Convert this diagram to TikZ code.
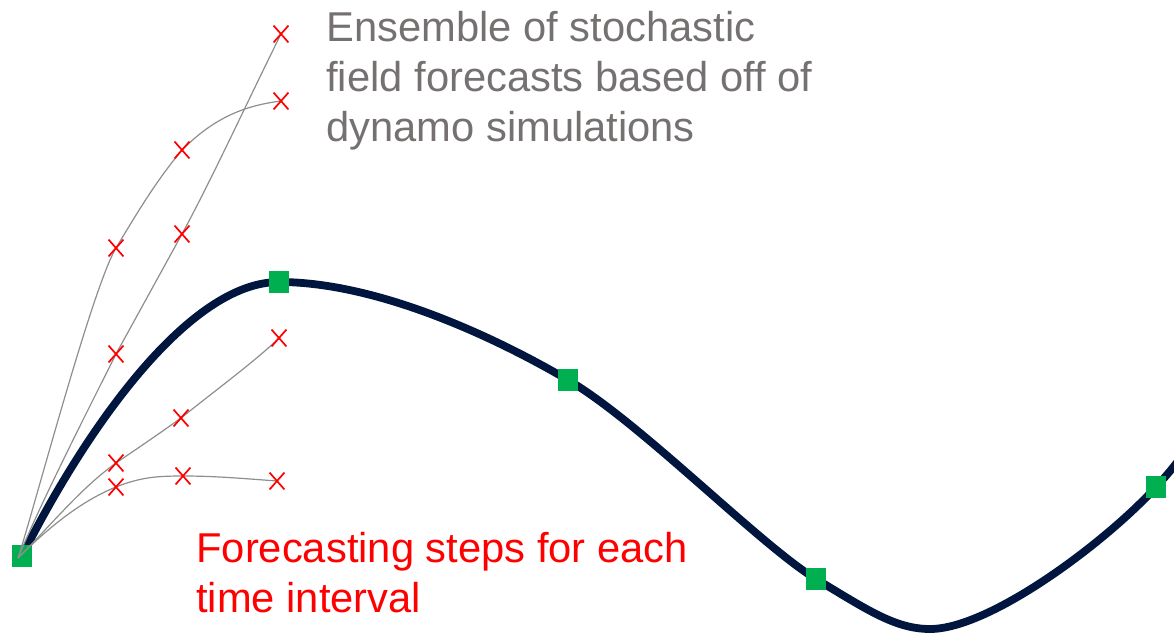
\documentclass[tikz,border=0pt]{standalone}
\usepackage{fontspec}
\setmainfont{Liberation Sans}
\usetikzlibrary{shapes.misc}
\definecolor{pathc}{HTML}{00163F}
\definecolor{stepc}{HTML}{00B050}
\definecolor{ensc}{HTML}{8E8E8E}
\definecolor{notec}{HTML}{767171}
\definecolor{fcstc}{HTML}{FF0000}
\pgfdeclarelayer{back}
\pgfdeclarelayer{front}
\pgfsetlayers{back,main,front}
\tikzset{
  mainpath/.style={pathc,line width=3.9pt},
  stepbox/.style={rectangle,fill=stepc,minimum width=9.6pt,minimum height=10.8pt,inner sep=0pt},
  ens/.style={ensc,line width=0.6pt},
  fcst/.style={cross out,draw=fcstc,line width=0.85pt,minimum width=6.6pt,minimum height=7.6pt,inner sep=0pt},
  lbl/.style={font=\fontsize{20.85}{25}\selectfont,align=left,inner sep=0pt}
}
\begin{document}
\begin{tikzpicture}[x=0.5pt,y=-0.5pt]
\useasboundingbox (0,0) rectangle (1174,634);
% forecast steps along the true path
\node[stepbox] (s0) at (22,556) {};
\node[stepbox] (s1) at (279,282) {};
\node[stepbox] (s2) at (568,380) {};
\node[stepbox] (s3) at (816,579) {};
\node[stepbox] (s4) at (1156,487) {};
\coordinate (low) at (930,629);
\coordinate (out) at (1186,450);
\begin{pgfonlayer}{back}
\draw[mainpath] (s0.center) .. controls (88,425) and (190,282) .. (s1.center)
  .. controls (380,282) and (500,340) .. (s2.center)
  .. controls (640,422) and (760,545) .. (s3.center)
  .. controls (866,609) and (895,629) .. (low)
  .. controls (990,629) and (1106,542) .. (s4.center)
  .. controls (1166,476) and (1175,466) .. (out);
\end{pgfonlayer}
% ensemble members
\begin{pgfonlayer}{front}
\node[fcst] (a1) at (116,248) {};
\node[fcst] (a2) at (182,150) {};
\node[fcst] (a3) at (281,101) {};
\node[fcst] (b1) at (116,354) {};
\node[fcst] (b2) at (182,234) {};
\node[fcst] (b3) at (281,34) {};
\node[fcst] (c1) at (116,463) {};
\node[fcst] (c2) at (181,418) {};
\node[fcst] (c3) at (279,338) {};
\node[fcst] (d1) at (116,487) {};
\node[fcst] (d2) at (183,476) {};
\node[fcst] (d3) at (277,481) {};
\end{pgfonlayer}
\coordinate (o) at (18,558);
\draw[ens] (o) .. controls +(15,-45) and +(-24,40) .. (a1.center)
  .. controls +(24,-40) and +(-25,30) .. (a2.center)
  .. controls +(30,-30) and +(-40,5) .. (a3.center);
\draw[ens] (o) .. controls +(25,-60) and +(-25,50) .. (b1.center)
  .. controls +(22,-40) and +(-22,40) .. (b2.center)
  .. controls +(30,-55) and +(-30,60) .. (b3.center);
\draw[ens] (o) .. controls +(35,-35) and +(-35,25) .. (c1.center)
  .. controls +(22,-15) and +(-25,18) .. (c2.center)
  .. controls +(35,-28) and +(-20,20) .. (c3.center);
\draw[ens] (o) .. controls +(30,-30) and +(-35,14) .. (d1.center)
  .. controls +(25,-10) and +(-25,0) .. (d2.center)
  .. controls +(30,0) and +(-40,-3) .. (d3.center);
% labels
\node[lbl,text=notec,anchor=west] (enstxt) at (326,81) {Ensemble of stochastic\\field forecasts based off of\\dynamo simulations};
\node[lbl,text=fcstc,anchor=west] (steptxt) at (196,573) {Forecasting steps for each\\time interval};
\end{tikzpicture}
\end{document}
